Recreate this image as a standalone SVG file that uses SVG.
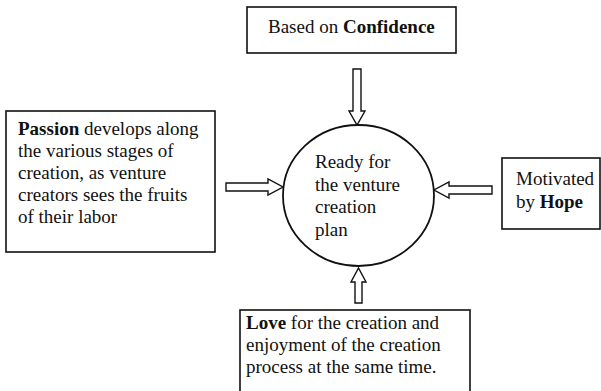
<svg xmlns="http://www.w3.org/2000/svg" width="601" height="391" viewBox="0 0 601 391">
  <style>
    .box { fill: #fff; stroke: #111; stroke-width: 1.6; }
    .hub { fill: #fff; stroke: #111; stroke-width: 1.8; }
    .arrow { fill: #fff; stroke: #111; stroke-width: 1.4; stroke-linejoin: miter; }
    text { font-family: "Liberation Serif", "Times New Roman", serif; font-size: 19px; fill: #111; }
    .b { font-weight: bold; }
  </style>
  <rect width="601" height="391" fill="#fff"/>

  <g id="connectors">
    <!-- top: Confidence -> hub -->
    <polygon class="arrow" points="353,69 361,69 361,111 365,111 357,125 349,111 353,111"/>
    <!-- left: Passion -> hub -->
    <polygon class="arrow" points="226,183 268,183 268,179 283,187 268,195 268,191 226,191"/>
    <!-- right: Hope -> hub -->
    <polygon class="arrow" points="492,186 449,186 449,182 434,190 449,198 449,194 492,194"/>
    <!-- bottom: Love -> hub -->
    <polygon class="arrow" points="355,303 362,303 362,282 366,282 358.5,268 351,282 355,282"/>
  </g>

  <g id="hub">
    <ellipse class="hub" cx="358.5" cy="195.5" rx="75.5" ry="70.5"/>
    <text x="315" y="168">Ready for</text>
    <text x="315" y="190.5">the venture</text>
    <text x="315" y="213">creation</text>
    <text x="315" y="235.5">plan</text>
  </g>

  <g id="confidence">
    <rect class="box" x="247" y="7" width="209" height="46"/>
    <text x="268" y="33">Based on <tspan class="b">Confidence</tspan></text>
  </g>

  <g id="passion">
    <rect class="box" x="6" y="111" width="209" height="141"/>
    <text x="18" y="135"><tspan class="b">Passion</tspan> develops along</text>
    <text x="18" y="157">the various stages of</text>
    <text x="18" y="179">creation, as venture</text>
    <text x="18" y="201">creators sees the fruits</text>
    <text x="18" y="223">of their labor</text>
  </g>

  <g id="hope">
    <rect class="box" x="502" y="158" width="98" height="71"/>
    <text x="516" y="185">Motivated</text>
    <text x="516" y="208">by <tspan class="b">Hope</tspan></text>
  </g>

  <g id="love">
    <rect class="box" x="240" y="310" width="230" height="90"/>
    <text x="246" y="329"><tspan class="b">Love</tspan> for the creation and</text>
    <text x="246" y="351">enjoyment of the creation</text>
    <text x="246" y="373">process at the same time.</text>
  </g>
</svg>
